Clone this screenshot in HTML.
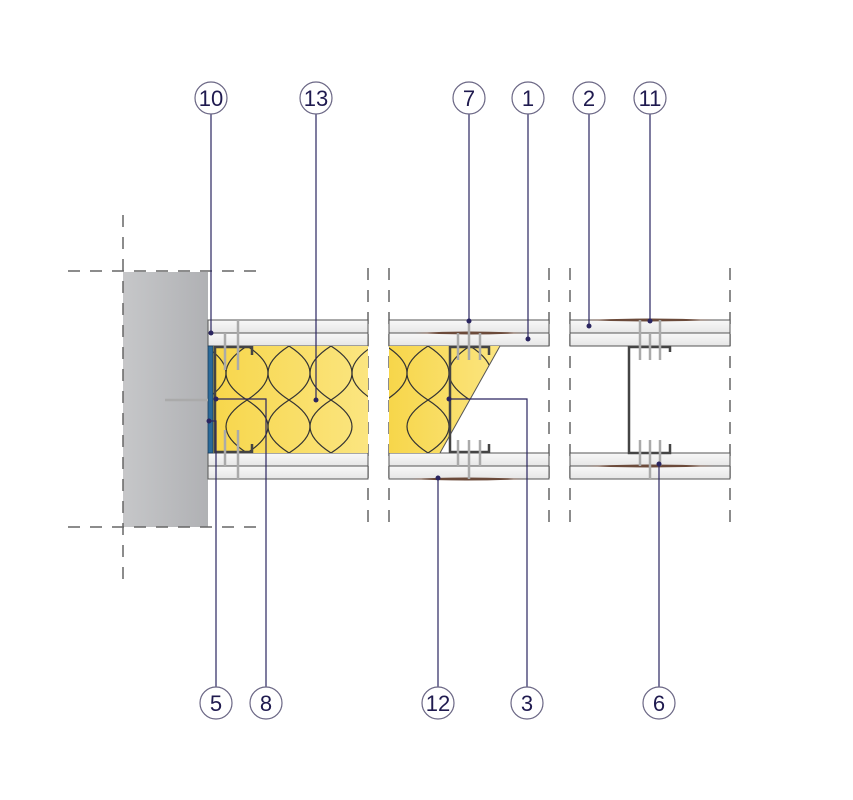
<!DOCTYPE html>
<html><head><style>body{margin:0;background:#fff}svg{display:block}</style></head><body>
<svg width="853" height="800" viewBox="0 0 853 800" xmlns="http://www.w3.org/2000/svg">
<defs>
<linearGradient id="conc" x1="0" x2="1"><stop offset="0" stop-color="#c6c7c9"/><stop offset="1" stop-color="#b0b1b4"/></linearGradient>
<linearGradient id="ins" x1="0" x2="1"><stop offset="0" stop-color="#f7d64a"/><stop offset="1" stop-color="#fbe580"/></linearGradient>
<linearGradient id="brd" x1="0" y1="0" x2="0" y2="1"><stop offset="0" stop-color="#f8f8f8"/><stop offset="1" stop-color="#e6e6e6"/></linearGradient>
<clipPath id="c1"><rect x="210" y="346" width="158" height="107"/></clipPath>
<clipPath id="c2"><polygon points="389,346 500,346 440,453 389,453"/></clipPath>
</defs>
<rect x="123" y="272" width="85" height="255" fill="url(#conc)"/>
<g stroke="#666" stroke-width="1.5" stroke-dasharray="12,10" fill="none">
<line x1="123" y1="215" x2="123" y2="585"/>
<line x1="68" y1="271" x2="262" y2="271"/>
<line x1="68" y1="527" x2="262" y2="527"/>
<line x1="368" y1="268" x2="368" y2="530"/>
<line x1="389" y1="268" x2="389" y2="530"/>
<line x1="549" y1="268" x2="549" y2="530"/>
<line x1="570" y1="268" x2="570" y2="530"/>
<line x1="730" y1="268" x2="730" y2="530"/>
</g>
<g stroke="#555" stroke-width="1" fill="url(#brd)">
<rect x="208" y="320" width="160" height="13"/><rect x="208" y="333" width="160" height="13"/>
<rect x="208" y="453" width="160" height="13"/><rect x="208" y="466" width="160" height="13"/>
<rect x="389" y="320" width="160" height="13"/><rect x="389" y="333" width="160" height="13"/>
<rect x="389" y="453" width="160" height="13"/><rect x="389" y="466" width="160" height="13"/>
<rect x="570" y="320" width="160" height="13"/><rect x="570" y="333" width="160" height="13"/>
<rect x="570" y="453" width="160" height="13"/><rect x="570" y="466" width="160" height="13"/>
</g>
<g fill="#6b4a3a">
<path d="M415 333 Q469 330 525 333 Q469 336 415 333Z"/>
<path d="M410 479 Q465 476 525 479 Q465 482 410 479Z"/>
<path d="M585 320 Q650 317 715 320 Q650 323 585 320Z"/>
<path d="M585 466 Q650 463 715 466 Q650 469 585 466Z"/>
</g>
<rect x="210" y="346" width="158" height="107" fill="url(#ins)"/>
<polygon points="389,346 500,346 440,453 389,453" fill="url(#ins)"/>
<g fill="none" stroke="#333" stroke-width="1.2" clip-path="url(#c1)">
<path d="M205 346 C233 364 233 382 205 400 C177 418 177 435 205 453"/>
<path d="M247 346 C219 364 219 382 247 400 C275 418 275 435 247 453"/>
<path d="M247 346 C275 364 275 382 247 400"/>
<path d="M289 346 C261 364 261 382 289 400 C317 418 317 435 289 453"/>
<path d="M289 346 C317 364 317 382 289 400"/>
<path d="M331 346 C303 364 303 382 331 400 C359 418 359 435 331 453"/>
<path d="M331 346 C359 364 359 382 331 400"/>
<path d="M373 346 C345 364 345 382 373 400 C401 418 401 435 373 453"/>
<path d="M247 400 C219 418 219 435 247 453 M289 400 C261 418 261 435 289 453 M331 400 C303 418 303 435 331 453"/>
</g>
<g fill="none" stroke="#333" stroke-width="1.2" clip-path="url(#c2)">
<path d="M386 346 C414 364 414 382 386 400 C358 418 358 435 386 453"/>
<path d="M428 346 C400 364 400 382 428 400 C456 418 456 435 428 453"/>
<path d="M428 346 C456 364 456 382 428 400 C400 418 400 435 428 453"/>
<path d="M470 346 C442 364 442 382 470 400 C498 418 498 435 470 453"/>
<path d="M470 346 C498 364 498 382 470 400"/>
</g>
<line x1="500" y1="346" x2="440" y2="453" stroke="#555"/>
<rect x="208" y="346" width="5" height="107" fill="#2a6a9a" stroke="#1a3b5a" stroke-width="0.8"/>
<g fill="none" stroke="#444" stroke-width="2.5">
<path d="M215 352 V347 H252 V355 M215 447 V452 H252 V444 M215 347 V452"/>
<path d="M489 355 V347 H450 V452 H489 V444"/>
<path d="M670 352 V347 H629 V453 H670 V444"/>
</g>
<g stroke="#aaa" stroke-width="2.5">
<line x1="238" y1="320" x2="238" y2="370"/><line x1="225" y1="333" x2="225" y2="370"/>
<line x1="238" y1="430" x2="238" y2="479"/><line x1="225" y1="430" x2="225" y2="466"/>
<line x1="458" y1="333" x2="458" y2="360"/><line x1="469" y1="320" x2="469" y2="360"/><line x1="480" y1="333" x2="480" y2="360"/>
<line x1="458" y1="440" x2="458" y2="466"/><line x1="469" y1="440" x2="469" y2="479"/><line x1="480" y1="440" x2="480" y2="466"/>
<line x1="640" y1="320" x2="640" y2="360"/><line x1="650" y1="333" x2="650" y2="360"/><line x1="660" y1="320" x2="660" y2="360"/>
<line x1="640" y1="440" x2="640" y2="466"/><line x1="650" y1="440" x2="650" y2="479"/><line x1="660" y1="440" x2="660" y2="466"/>
<line x1="165" y1="400" x2="208" y2="400"/>
</g>
<g stroke="#2a2560" stroke-width="1.2" fill="none">
<path d="M211 114 V333"/><path d="M316 114 V400"/><path d="M469 114 V321"/><path d="M528 114 V339"/>
<path d="M589 114 V326"/><path d="M650 114 V321"/>
<path d="M216 687 V421 H209"/><path d="M266 687 V399 H216"/><path d="M438 687 V478"/>
<path d="M527 687 V399 H449"/><path d="M659 687 V464"/>
</g>
<g fill="#2a2560">
<circle cx="211" cy="333" r="2.5"/><circle cx="316" cy="400" r="2.5"/><circle cx="469" cy="321" r="2.5"/>
<circle cx="528" cy="339" r="2.5"/><circle cx="589" cy="326" r="2.5"/><circle cx="650" cy="321" r="2.5"/>
<circle cx="209" cy="421" r="2.5"/><circle cx="216" cy="399" r="2.5"/><circle cx="438" cy="478" r="2.5"/>
<circle cx="449" cy="399" r="2.5"/><circle cx="659" cy="464" r="2.5"/>
</g>
<g fill="#fff" stroke="#6b6785" stroke-width="1.2">
<circle cx="211" cy="98" r="16"/><circle cx="316" cy="98" r="16"/><circle cx="469" cy="98" r="16"/>
<circle cx="528" cy="98" r="16"/><circle cx="589" cy="98" r="16"/><circle cx="650" cy="98" r="16"/>
<circle cx="216" cy="703" r="16"/><circle cx="266" cy="703" r="16"/><circle cx="438" cy="703" r="16"/>
<circle cx="527" cy="703" r="16"/><circle cx="659" cy="703" r="16"/>
</g>
<g font-family="Liberation Sans, sans-serif" font-size="22" fill="#1f1a4f" text-anchor="middle">
<text x="211" y="106">10</text><text x="316" y="106">13</text><text x="469" y="106">7</text>
<text x="528" y="106">1</text><text x="589" y="106">2</text><text x="650" y="106">11</text>
<text x="216" y="711">5</text><text x="266" y="711">8</text><text x="438" y="711">12</text>
<text x="527" y="711">3</text><text x="659" y="711">6</text>
</g>
</svg>
</body></html>
